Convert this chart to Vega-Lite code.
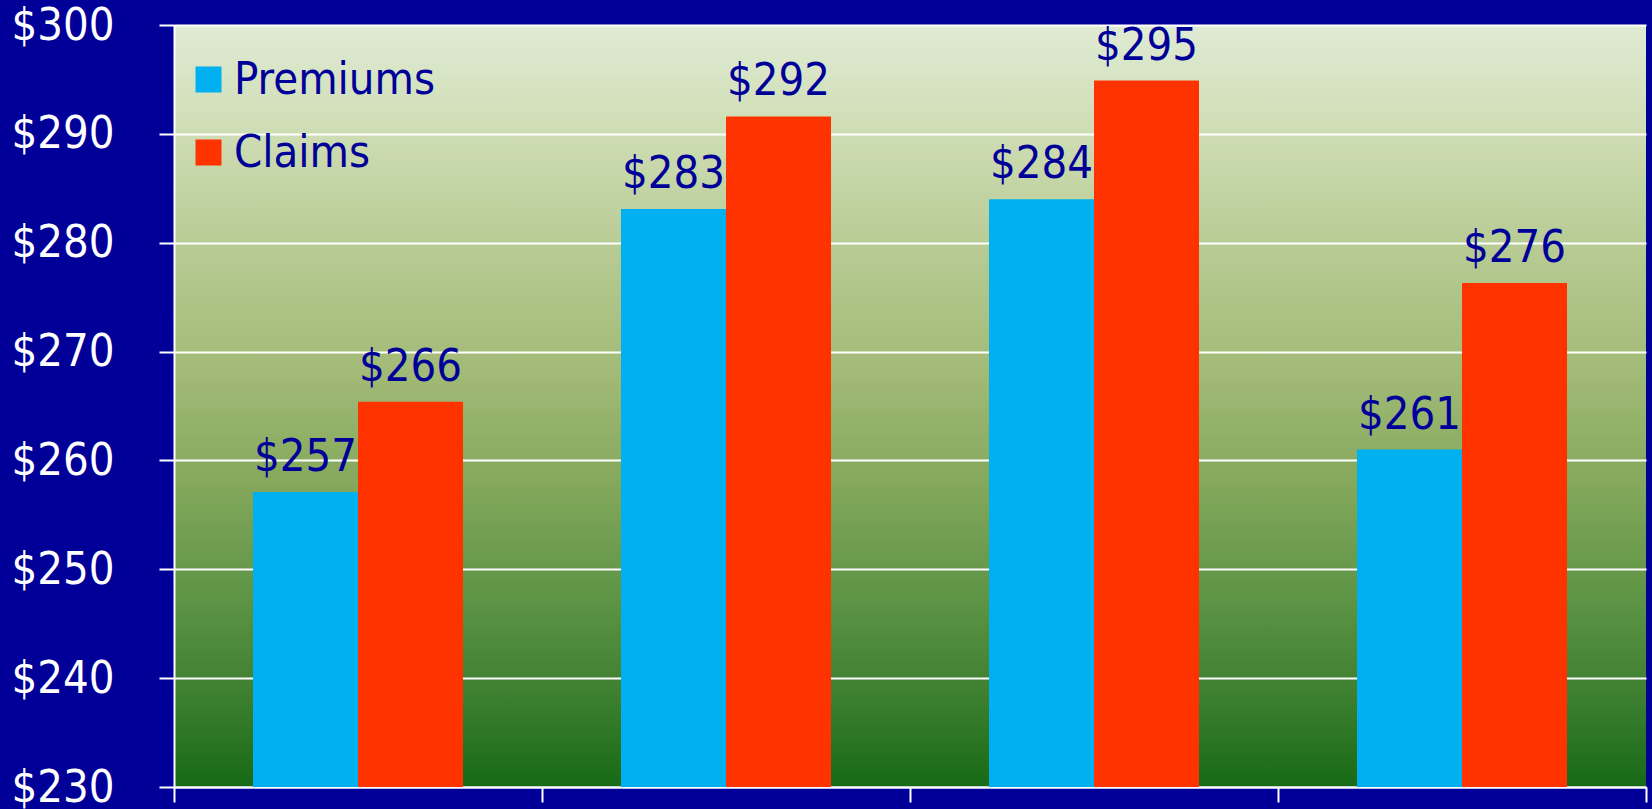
{
  "$schema": "https://vega.github.io/schema/vega-lite/v6.json",
  "width": 1472,
  "height": 762,
  "autosize": {"type": "none"},
  "padding": {"left": 174, "top": 25, "right": 6, "bottom": 22},
  "background": "#000099",
  "config": {
    "font": "DejaVu Sans Condensed, Liberation Sans",
    "view": {
      "stroke": null,
      "fill": {
        "gradient": "linear",
        "x1": 0, "y1": 0, "x2": 0, "y2": 1,
        "stops": [
          {"offset": 0, "color": "#e0ebd4"},
          {"offset": 0.15, "color": "#cddcb2"},
          {"offset": 0.3, "color": "#b6ca92"},
          {"offset": 0.45, "color": "#a3bb78"},
          {"offset": 0.6, "color": "#84a85c"},
          {"offset": 0.75, "color": "#5e9445"},
          {"offset": 0.88, "color": "#3d7f30"},
          {"offset": 1, "color": "#176a17"}
        ]
      }
    }
  },
  "data": {
    "values": [
      {"group": "1", "series": "Premiums", "value": 257.1, "label": "$257"},
      {"group": "1", "series": "Claims", "value": 265.4, "label": "$266"},
      {"group": "2", "series": "Premiums", "value": 283.1, "label": "$283"},
      {"group": "2", "series": "Claims", "value": 291.6, "label": "$292"},
      {"group": "3", "series": "Premiums", "value": 284.0, "label": "$284"},
      {"group": "3", "series": "Claims", "value": 294.9, "label": "$295"},
      {"group": "4", "series": "Premiums", "value": 261.0, "label": "$261"},
      {"group": "4", "series": "Claims", "value": 276.3, "label": "$276"}
    ]
  },
  "encoding": {
    "x": {
      "field": "group",
      "type": "nominal",
      "scale": {"paddingInner": 0, "paddingOuter": 0},
      "axis": {
        "title": null,
        "labels": false,
        "ticks": true,
        "tickBand": "extent",
        "tickColor": "white",
        "tickSize": 15,
        "tickWidth": 2,
        "domainColor": "white",
        "domainWidth": 2,
        "grid": false
      }
    },
    "xOffset": {
      "field": "series",
      "type": "nominal",
      "sort": ["Premiums", "Claims"],
      "scale": {"paddingInner": 0, "paddingOuter": 0.752}
    },
    "y": {
      "field": "value",
      "type": "quantitative",
      "scale": {"domain": [230, 300], "nice": false, "zero": false},
      "axis": {
        "title": null,
        "values": [230, 240, 250, 260, 270, 280, 290, 300],
        "format": "$.0f",
        "labelColor": "white",
        "labelFont": "DejaVu Sans Condensed, Liberation Sans",
        "labelFontSize": 45,
        "labelPadding": 45,
        "labelBaseline": "middle",
        "tickColor": "white",
        "tickSize": 15,
        "tickWidth": 2,
        "domainColor": "white",
        "domainWidth": 2,
        "grid": true,
        "gridColor": "white",
        "gridWidth": 2,
        "gridOpacity": 1
      }
    }
  },
  "layer": [
    {
      "mark": {"type": "bar", "stroke": null},
      "encoding": {
        "y2": {"datum": 230},
        "color": {
          "field": "series",
          "type": "nominal",
          "sort": ["Premiums", "Claims"],
          "scale": {"domain": ["Premiums", "Claims"], "range": ["#00B0F0", "#FF3300"]},
          "legend": {
            "orient": "none",
            "legendX": 12,
            "legendY": 32,
            "title": null,
            "padding": 0,
            "labelFont": "DejaVu Sans Condensed, Liberation Sans",
            "labelFontSize": 45,
            "labelColor": "#000099",
            "labelOffset": 3,
            "labelLimit": 0,
            "symbolType": "square",
            "symbolSize": 676,
            "symbolStrokeWidth": 0,
            "symbolOpacity": 1,
            "rowPadding": 27
          }
        }
      }
    },
    {
      "mark": {
        "type": "text",
        "baseline": "alphabetic",
        "align": "center",
        "dy": -21,
        "fontSize": 45,
        "font": "DejaVu Sans Condensed, Liberation Sans",
        "color": "#000099"
      },
      "encoding": {
        "text": {"field": "label", "type": "nominal"}
      }
    }
  ]
}
